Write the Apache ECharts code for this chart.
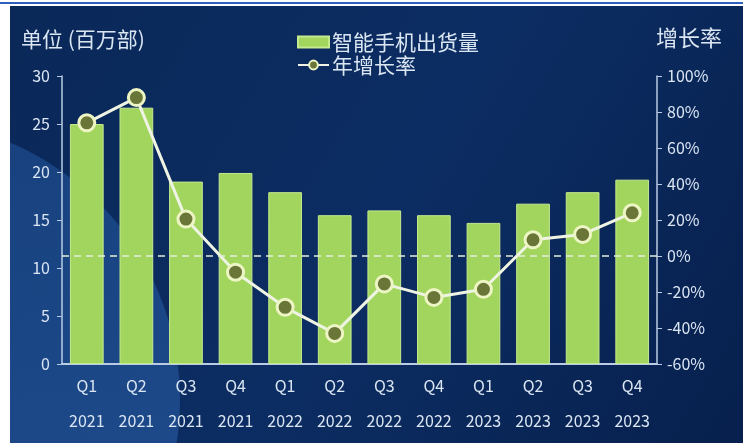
<!DOCTYPE html>
<html><head><meta charset="utf-8">
<script src="https://cdn.jsdelivr.net/npm/echarts@6/dist/echarts.min.js"></script>
<style>html,body{margin:0;padding:0;background:#fff;}#c{width:743px;height:443px;}</style>
</head><body><div id="c"></div>
<script>
const categories = ['Q1\n2021','Q2\n2021','Q3\n2021','Q4\n2021','Q1\n2022','Q2\n2022','Q3\n2022','Q4\n2022','Q1\n2023','Q2\n2023','Q3\n2023','Q4\n2023'];
const shipments = [25.0, 26.7, 19.0, 19.9, 17.9, 15.5, 16.0, 15.5, 14.7, 16.7, 17.9, 19.2];
const growth = [74, 88, 20.5, -9, -28.5, -43, -15.5, -23, -18.5, 9, 12, 24];
const leftTicks = [0, 30, 5];
const rightTicks = [-60, 100, 20];

const chart = echarts.init(document.getElementById('c'), null, {renderer:'canvas'});
const font = '"Noto Sans CJK SC", "Noto Sans", sans-serif';
const txt = '#dbe6f3';
const axisCol = '#b9cce3';
chart.setOption({
  backgroundColor: '#ffffff',
  textStyle: {fontFamily: font},
  graphic: [
    {type:'rect', shape:{x:0,y:2,width:743,height:2}, style:{fill:'#2d5fbf'}, z:-10},
    {type:'rect', shape:{x:10,y:6,width:733,height:437}, style:{fill: new echarts.graphic.LinearGradient(0,0,1,1,[{offset:0,color:'#0a2858'},{offset:0.5,color:'#0c2d63'},{offset:1,color:'#07204d'}])}, z:-10},
    {type:'circle', shape:{cx:-100, cy:400, r:280}, style:{fill: new echarts.graphic.LinearGradient(0,0,0,1,[{offset:0,color:'rgba(40,95,170,0.45)'},{offset:1,color:'rgba(40,90,160,0.7)'}])}, z:-9},
    {type:'rect', shape:{x:0,y:6,width:10,height:437}, style:{fill:'#ffffff'}, z:-8},
    {type:'text', left:21, top:29, style:{text:'单位 (百万部)', fill:txt, font:'21px '+font}},
    {type:'text', right:21, top:27, style:{text:'增长率', fill:txt, font:'22px '+font}}
  ],
  legend: {
    orient:'vertical', left:292, top:26, itemGap:1, itemWidth:31, itemHeight:11,
    textStyle:{color:txt, fontSize:21, lineHeight:22, fontFamily:font, padding:[0,0,0,-2]},
    data:[{name:'智能手机出货量', icon:'rect'},{name:'年增长率'}]
  },
  grid: {left:62, right:86, top:76, bottom:79},
  xAxis: {
    type:'category', data:categories,
    axisLine:{lineStyle:{color:axisCol, width:2}},
    axisTick:{show:false},
    axisLabel:{color:txt, fontSize:16, lineHeight:35, margin:4, fontFamily:font}
  },
  yAxis: [
    {type:'value', min:leftTicks[0], max:leftTicks[1], interval:leftTicks[2],
     axisLine:{show:true, lineStyle:{color:axisCol, width:1.5}},
     axisTick:{show:true, length:5, lineStyle:{color:axisCol}},
     splitLine:{show:false},
     axisLabel:{color:txt, fontSize:16, margin:12, fontFamily:font}},
    {type:'value', min:rightTicks[0], max:rightTicks[1], interval:rightTicks[2],
     axisLine:{show:true, lineStyle:{color:axisCol, width:1.5}},
     axisTick:{show:true, length:5, lineStyle:{color:axisCol}},
     splitLine:{show:false},
     axisLabel:{color:txt, fontSize:16, margin:10, formatter:'{value}%', fontFamily:font}}
  ],
  series: [
    {name:'智能手机出货量', type:'bar', data:shipments, barWidth:'68%',
     itemStyle:{color:'#a2d55e', borderColor:'#c6ea90', borderWidth:1}},
    {name:'年增长率', type:'line', yAxisIndex:1, data:growth,
     symbol:'circle', symbolSize:16,
     lineStyle:{color:'#eef3e4', width:3},
     itemStyle:{color:'#6a7638', borderColor:'#eef5c4', borderWidth:3},
     markLine:{silent:true, symbol:'none', label:{show:false},
       lineStyle:{color:'#e4eedc', type:[7,5], width:1.5},
       data:[{yAxis:0}]}}
  ]
});
</script></body></html>
